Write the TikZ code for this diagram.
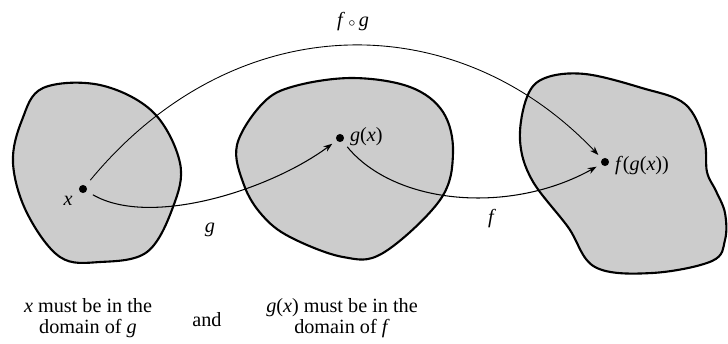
\documentclass[tikz,border=0pt]{standalone}
\usepackage{fontspec}
\setmainfont{Liberation Serif}
\usepackage{tikz}
\usetikzlibrary{arrows.meta,positioning,calc}

\begin{document}
\begin{tikzpicture}[
    x=0.02cm, y=-0.02cm,
    blob/.style={draw=black, line width=1.2pt, fill=black!20},
    ptdot/.style={circle, fill=black, inner sep=0pt, minimum size=4.6pt},
    maparr/.style={line width=0.6pt, -{Stealth[length=5pt,width=3.6pt]},
                   shorten <=4pt, shorten >=3pt},
    lbl/.style={font=\fontsize{11.5}{12}\selectfont, inner sep=1pt},
    note/.style={font=\fontsize{11.5}{11.6}\selectfont, align=center, inner sep=0pt},
  ]
  \useasboundingbox (0,0) rectangle (728,343);

  % Left: domain of g
  \draw[blob] plot[smooth cycle, tension=0.6] coordinates {
    (43,88) (100,85) (153,112) (180,163) (173,207) (147,252)
    (100,262) (60,257) (27,213) (13,163) (22,120)};

  % Middle: domain of f
  \draw[blob] plot[smooth cycle, tension=0.6] coordinates {
    (263,103) (295,86) (353,78) (410,87) (443,112) (453,153)
    (440,200) (383,253) (343,257) (290,237) (262,215) (244,185) (237,145)};

  % Right: range
  \draw[blob] plot[smooth cycle, tension=0.6] coordinates {
    (545,78) (585,74) (642,88) (685,104) (704,140) (707,172)
    (716,191) (725,213) (725,240) (712,261) (652,273) (595,267) (568,227)
    (532,180) (520,140) (527,97)};

  % Points
  \node[ptdot] (x)   at (83,189)  {};
  \node[ptdot] (gx)  at (340,138) {};
  \node[ptdot] (fgx) at (605,162) {};

  \node[lbl] (xlbl)   at (68,201)  {\textit{x}};
  \node[lbl, right=2pt of gx, yshift=1pt]   (gxlbl)  {\textit{g}(\textit{x})};
  \node[lbl, right=2pt of fgx, yshift=-2pt] (fgxlbl) {\textit{f}(\textit{g}(\textit{x}))};

  % Maps
  \draw[maparr] (x) .. controls (150,228) and (270,190) .. (gx);
  \draw[maparr] (gx) .. controls (395,205) and (510,215) .. (fgx);
  \draw[maparr, line width=0.5pt] (x) .. controls (235,5) and (456,5) .. (fgx);

  \node[lbl] (glbl)  at (210,230) {\textit{g}};
  \node[lbl] (flbl)  at (492,219) {\textit{f}};
  \node[lbl] (fglbl) at (353,22)  {\textit{f}\,{\scriptsize$\circ$}\,\textit{g}};

  % Conditions
  \node[note] (condx) at (88,318)
    {\textit{x} must be in the\\domain of \textit{g}};
  \node[note] (andlbl) at (207,320) {and};
  \node[note] (condgx) at (342,318)
    {\textit{g}(\textit{x}) must be in the\\domain of \textit{f}};

\end{tikzpicture}
\end{document}
